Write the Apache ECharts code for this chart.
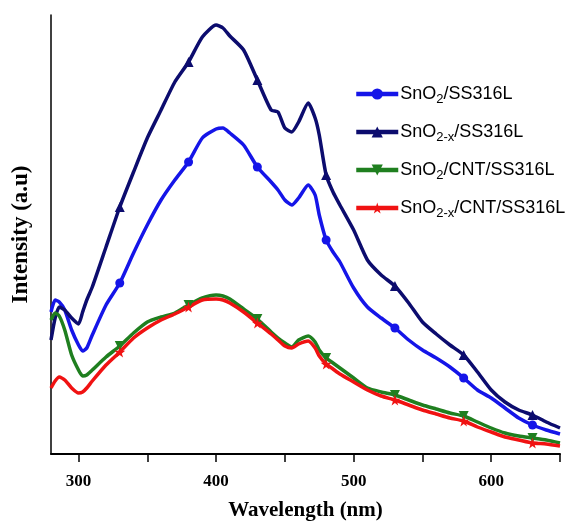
<!DOCTYPE html>
<html>
<head>
<meta charset="utf-8">
<script src="https://cdn.jsdelivr.net/npm/echarts@6/dist/echarts.min.js"></script>
<style>
  html, body { margin: 0; padding: 0; background: #fff; }
  #chart { width: 572px; height: 522px; }
</style>
</head>
<body>
<div id="chart"></div>
<script>
// wavelength grid (nm) shared by all four spectra
const wavelengths = [280, 283, 286, 290, 295, 300, 303, 306, 310, 320, 330, 340, 350, 360, 370, 380, 390, 400, 405, 410,
  420, 430, 440, 445, 450, 455, 460, 467, 472, 475, 480, 485, 490, 500, 510, 520, 530, 540, 550, 560,
  570, 580, 590, 600, 610, 620, 630, 640, 650];

// PL intensity (a.u.)
const sno2SS = [142, 154, 152, 144, 124, 109, 103, 106, 119, 149, 171, 201, 229, 254, 274, 292, 316, 325, 326, 321,
  309, 287, 272, 264, 254, 249, 256, 269, 259, 239, 214, 202, 192, 166, 147, 136, 126, 114, 104, 96,
  87, 76, 64, 56, 46, 36, 29, 24, 20];
const sno2xSS = [114, 136, 147, 144, 136, 130, 142, 154, 167, 207, 247, 282, 316, 344, 372, 392, 417, 429, 426, 418,
  404, 374, 344, 342, 326, 322, 332, 351, 336, 319, 279, 262, 249, 224, 194, 179, 168, 151, 132, 120,
  109, 99, 82, 64, 52, 44, 39, 32, 26];
const sno2CntSS = [134, 141, 138, 124, 99, 84, 78, 79, 84, 97, 108, 121, 132, 137, 141, 149, 156, 159, 158, 155,
  145, 135, 122, 116, 111, 107, 114, 118, 112, 104, 96, 91, 86, 76, 66, 62, 59, 54, 49, 45,
  41, 38, 32, 26, 21, 18, 16, 14, 11];
const sno2xCntSS = [66, 73, 77, 74, 66, 61, 62, 66, 73, 89, 102, 116, 126, 134, 140, 147, 154, 155, 154, 151,
  142, 131, 120, 114, 108, 106, 110, 113, 106, 98, 90, 85, 80, 72, 64, 58, 54, 49, 44, 40,
  36, 33, 27, 22, 17, 14, 11, 10, 8];

const markerWavelengths = [330, 380, 430, 480, 530, 580, 630];
const xLabelValues = [300, 400, 500, 600];
const xTickValues = [300, 350, 400, 450, 500, 550, 600, 650];

const legendNames = {
  'SnO2/SS316L': 'SnO{sub|2}/SS316L',
  'SnO2-x/SS316L': 'SnO{sub|2-x}/SS316L',
  'SnO2/CNT/SS316L': 'SnO{sub|2}/CNT/SS316L',
  'SnO2-x/CNT/SS316L': 'SnO{sub|2-x}/CNT/SS316L',
};

const STAR = 'path://M50,0 L61,35 L98,35 L68,57 L79,91 L50,70 L21,91 L32,57 L2,35 L39,35 Z';
const DOWN_TRIANGLE = 'path://M0,0 L10,0 L5,9 Z';

function toPoints(values) {
  return wavelengths.map((w, i) =>
    markerWavelengths.includes(w) ? [w, values[i]] : { value: [w, values[i]], symbol: 'none' },
  );
}

function makeSeries(name, values, color, symbol, size) {
  return {
    name,
    type: 'line',
    data: toPoints(values),
    smooth: 0.2,
    showAllSymbol: true,
    symbol,
    symbolSize: size,
    lineStyle: { color, width: 3.5 },
    itemStyle: { color },
    emphasis: { disabled: true },
  };
}

const chart = echarts.init(document.getElementById('chart'));
const serif = '"Liberation Serif", "Times New Roman", serif';
const sans = '"Liberation Sans", Arial, sans-serif';

chart.setOption({
  animation: false,
  grid: { left: 51, right: 12, top: 15, bottom: 68, outerBoundsMode: 'none', containLabel: false },
  legend: {
    left: 354,
    top: 85,
    padding: 0,
    orient: 'vertical',
    itemWidth: 42,
    itemHeight: 14,
    itemGap: 17.5,
    selectedMode: false,
    lineStyle: { width: 4.5 },
    formatter: (name) => legendNames[name],
    textStyle: {
      fontFamily: sans,
      fontSize: 18,
      color: '#000',
      padding: [0, 0, 0, -3],
      rich: {
        sub: {
          fontFamily: sans,
          fontSize: 13,
          color: '#000',
          verticalAlign: 'bottom',
          padding: [10, 0, 0, 0],
        },
      },
    },
  },
  xAxis: {
    type: 'value',
    min: 280,
    max: 650,
    name: 'Wavelength (nm)',
    nameLocation: 'middle',
    nameGap: 46,
    nameTextStyle: { fontFamily: serif, fontWeight: 'bold', fontSize: 21, color: '#000' },
    axisLine: { show: true, onZero: false, lineStyle: { color: '#000', width: 2 } },
    axisTick: { show: true, length: 8, customValues: xTickValues, lineStyle: { color: '#000', width: 1.5 } },
    axisLabel: {
      customValues: xLabelValues,
      margin: 19,
      fontFamily: serif,
      fontWeight: 'bold',
      fontSize: 17,
      color: '#000',
    },
    splitLine: { show: false },
  },
  yAxis: {
    type: 'value',
    min: 0,
    max: 439,
    name: 'Intensity (a.u)',
    nameLocation: 'middle',
    nameRotate: 90,
    nameGap: 18,
    nameTextStyle: { fontFamily: serif, fontWeight: 'bold', fontSize: 23, color: '#000' },
    axisLine: { show: true, lineStyle: { color: '#000', width: 1.5 } },
    axisTick: { show: false },
    axisLabel: { show: false },
    splitLine: { show: false },
  },
  series: [
    makeSeries('SnO2/SS316L', sno2SS, '#1515e8', 'circle', 9),
    makeSeries('SnO2-x/SS316L', sno2xSS, '#0c0c6e', 'triangle', 10),
    makeSeries('SnO2/CNT/SS316L', sno2CntSS, '#1f7f1f', DOWN_TRIANGLE, 10),
    makeSeries('SnO2-x/CNT/SS316L', sno2xCntSS, '#f01212', STAR, 11),
  ],
});
</script>
</body>
</html>
